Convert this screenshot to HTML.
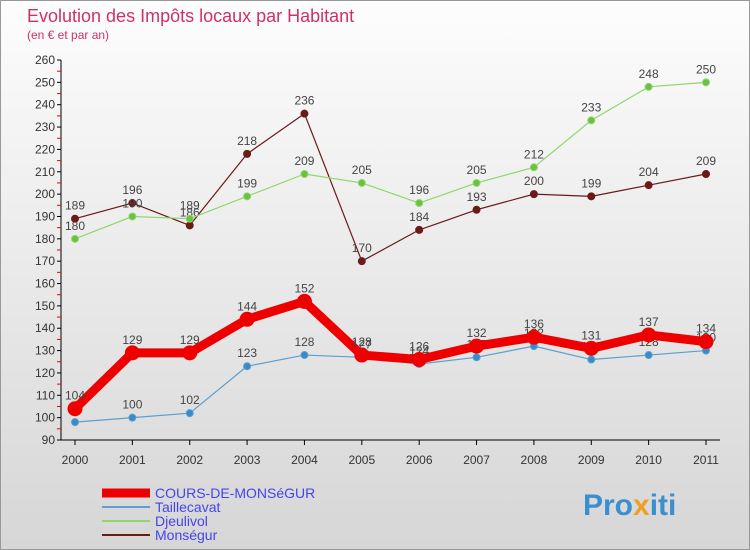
<!DOCTYPE html>
<html><head><meta charset="utf-8"><style>
body{margin:0;width:750px;height:550px;overflow:hidden;font-family:"Liberation Sans",sans-serif}
#c{position:absolute;left:0;top:0;width:748px;height:548px;border:1px solid #999;background:linear-gradient(#fdfdfd,#d6d6d6)}
</style></head><body>
<div id="c"></div>
<svg id="s" width="750" height="550" style="position:absolute;left:0;top:0" font-family="Liberation Sans, sans-serif">
<text x="27" y="22" font-size="18" fill="#d0306a">Evolution des Impôts locaux par Habitant</text>
<text x="27" y="39" font-size="12" fill="#d0306a">(en € et par an)</text>
<text x="583" y="515" font-size="30" font-weight="bold" fill="#3a8fd0">Pro<tspan fill="#f0a020">x</tspan>iti</text>
</svg>
<script>
const years=[2000,2001,2002,2003,2004,2005,2006,2007,2008,2009,2010,2011];
const cours=[104,129,129,144,152,128,126,132,136,131,137,134];
const taille=[98,100,102,123,128,127,124,127,132,126,128,130];
const djeu=[180,190,189,199,209,205,196,205,212,233,248,250];
const monse=[189,196,186,218,236,170,184,193,200,199,204,209];
const yTicks=[90,100,110,120,130,140,150,160,170,180,190,200,210,220,230,240,250,260];
const NS="http://www.w3.org/2000/svg",s=document.getElementById('s');
const X=i=>75+i*(706-75)/11, Y=v=>440-(v-90)*(380/170);
function el(t,a,p){const e=document.createElementNS(NS,t);for(const k in a)e.setAttribute(k,a[k]);(p||s).appendChild(e);return e;}
const ax=el('g',{});


el('line',{x1:61,y1:Y(260),x2:61,y2:440,stroke:'#000'},ax);
el('line',{x1:61,y1:440,x2:720,y2:440,stroke:'#000'},ax);
yTicks.forEach((v,i)=>{el('line',{x1:57,x2:61,y1:Y(v),y2:Y(v),stroke:'#000'},ax);
 if(i<yTicks.length-1)el('line',{x1:57,x2:61,y1:Y(v+5),y2:Y(v+5),stroke:'#e00'},ax);
 const t=el('text',{x:55,y:Y(v)+4,'text-anchor':'end','font-size':12,fill:'#333'},ax);t.textContent=v;
 
 });
years.forEach((y,i)=>{el('line',{x1:X(i),x2:X(i),y1:440,y2:445,stroke:'#000'},ax);
 const t=el('text',{x:X(i),y:464,'text-anchor':'middle','font-size':12,fill:'#333'},ax);t.textContent=y;
 
 });
function series(name,d,col,dot,w,r){
 const g=el('g',{});
 
 
 el('polyline',{points:d.map((v,i)=>X(i)+','+Y(v)).join(' '),fill:'none',stroke:col,'stroke-width':w,'stroke-linejoin':'round'},g);
 d.forEach((v,i)=>{const c=el('circle',{cx:X(i),cy:Y(v),r:r,fill:dot,stroke:col,'stroke-width':1},g);
  
  
  const t=el('text',{x:X(i),y:Y(v)-9,'text-anchor':'middle','font-size':12,fill:'#444'},g);t.textContent=v;
  
  });
}
series('monsegur',monse,'#6b1a1a','#6b1a1a',1.2,3.5);
series('djeulivol',djeu,'#8ed86a','#6cc040',1.2,3.5);
series('taillecavat',taille,'#5a9fd0','#3a8ac8',1.2,3.5);
series('cours-de-monsegur',cours,'#ee0000','#ee0000',9,7);
const L=[['COURS-DE-MONSéGUR','#ee0000',9],['Taillecavat','#5a9fd0',2],['Djeulivol','#8ed86a',2],['Monségur','#6b1a1a',2]];
L.forEach((l,i)=>{const g=el('g',{});
 
 
 const y=493+i*14;el('line',{x1:102,x2:150,y1:y,y2:y,stroke:l[1],'stroke-width':l[2]},g);
 const t=el('text',{x:155,y:y+5,'font-size':14,fill:'#4444ee'},g);t.textContent=l[0];});
</script>
</body></html>
